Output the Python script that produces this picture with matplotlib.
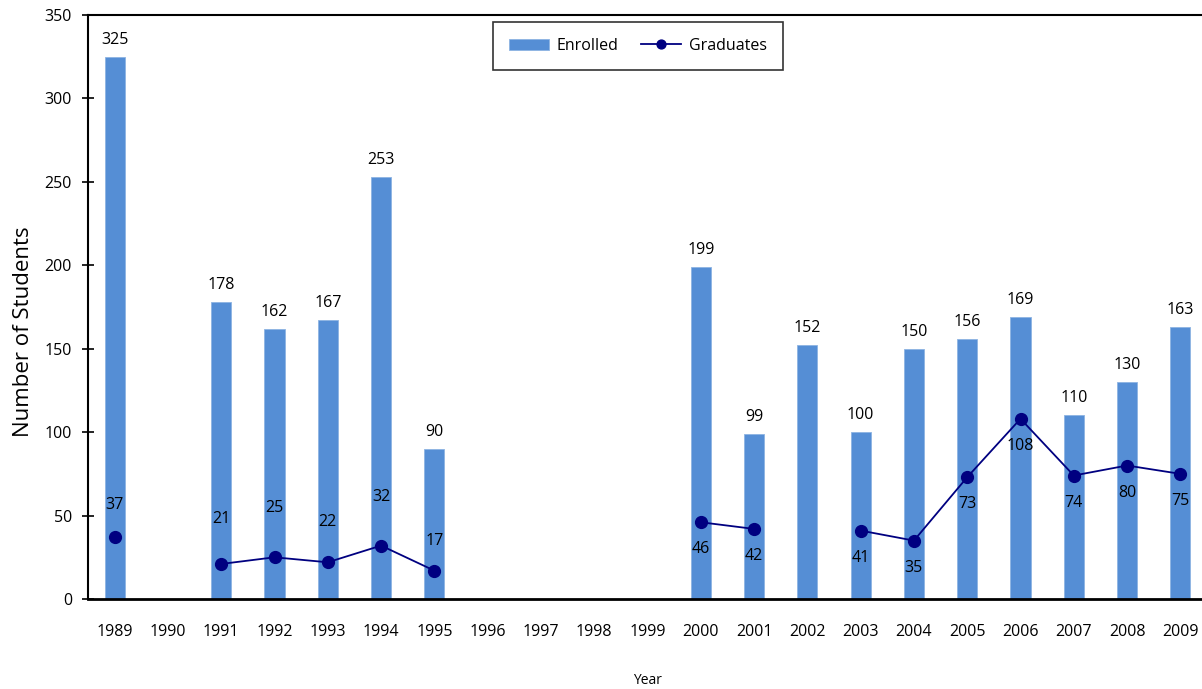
import numpy as np
import matplotlib
matplotlib.use("Agg")
import matplotlib.pyplot as plt

years = [str(y) for y in range(1989, 2010)]
enrolled = [325, np.nan, 178, 162, 167, 253, 90, np.nan, np.nan, np.nan, np.nan,
            199, 99, 152, 100, 150, 156, 169, 110, 130, 163]
graduates = [37, np.nan, 21, 25, 22, 32, 17, np.nan, np.nan, np.nan, np.nan,
             46, 42, np.nan, 41, 35, 73, 108, 74, 80, 75]
# label offset (pixels) for graduate labels: positive = above
grad_label_offsets = [32, 0, 45, 49, 40, 49, 30, 0, 0, 0, 0,
                      -27, -27, 0, -27, -27, -27, -27, -27, -27, -27]

plt.rcParams['font.family'] = ['Open Sans', 'DejaVu Sans']

fig = plt.figure(figsize=(12.02, 6.89), dpi=100)
ax = fig.add_axes([88/1202, 1-599/689, (1207-88)/1202, (599-15)/689])

x = np.arange(len(years))
bar_color = '#558ED5'
line_color = '#000080'

bars = ax.bar(x, enrolled, width=0.38, color=bar_color, edgecolor='#8DB3E2', linewidth=0.6,
              label='Enrolled', zorder=2)
line, = ax.plot(x, graduates, color=line_color, marker='o', markersize=8.5, linewidth=1.3,
                label='Graduates', zorder=3)

px2pt = 72/100
for xi, v in zip(x, enrolled):
    if not np.isnan(v):
        ax.annotate(f"{int(v)}", (xi, v), xytext=(0, 17*px2pt), textcoords='offset points',
                    ha='center', va='center', fontsize=11.5)
for xi, v, off in zip(x, graduates, grad_label_offsets):
    if not np.isnan(v):
        ax.annotate(f"{int(v)}", (xi, v), xytext=(0, off*px2pt), textcoords='offset points',
                    ha='center', va='center', fontsize=11.5)

ax.set_xlim(-0.5, len(years)-0.5)
ax.set_ylim(0, 350)
ax.set_yticks(np.arange(0, 351, 50))
ax.set_xticks(x)
ax.set_xticklabels(years)
ax.tick_params(axis='y', direction='inout', length=9, width=1.2, labelsize=11.5, pad=7)
ax.tick_params(axis='x', length=0, labelsize=11.5, pad=18)

for s in ['left', 'top']:
    ax.spines[s].set_linewidth(1.5)
ax.spines['bottom'].set_linewidth(2)
ax.spines['right'].set_visible(False)

ax.set_ylabel('Number of Students', fontsize=16)
ax.yaxis.set_label_coords(-0.048, 0.457)
ax.set_xlabel('Year', fontsize=10, labelpad=24)

leg = ax.legend([bars, line], ['Enrolled', 'Graduates'], loc='upper center',
                bbox_to_anchor=((638-88)/(1207-88), 1-2/584), ncol=2,
                frameon=True, fancybox=False, fontsize=11.5, handlelength=2.5,
                borderpad=1.0, columnspacing=1.4, handletextpad=0.5, borderaxespad=0.3,
                markerscale=0.75)
leg.get_frame().set_edgecolor('black')
leg.get_frame().set_linewidth(1.2)

fig.savefig('out.png', dpi=100)
